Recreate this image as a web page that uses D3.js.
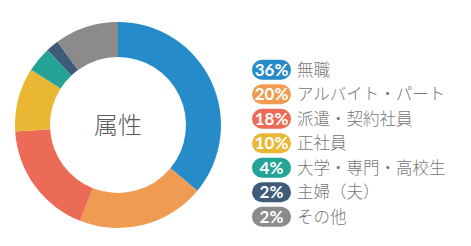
<!DOCTYPE html>
<html>
<head>
<meta charset="utf-8">
<script src="https://cdn.jsdelivr.net/npm/d3@7"></script>
<style>
  html, body { margin: 0; padding: 0; background: #fff; }
  svg { display: block; }
</style>
</head>
<body>
<svg id="chart" width="471" height="246"></svg>
<script>
// categories, slice sizes (as drawn) and badge labels (as printed)
const categories = ["無職", "アルバイト・パート", "派遣・契約社員", "正社員", "大学・専門・高校生", "主婦（夫）", "その他"];
const values = [36, 20, 18, 10, 4, 2, 10];
const badgeLabels = ["36%", "20%", "18%", "10%", "4%", "2%", "2%"];
const colors = ["#268bc9", "#ef9b52", "#ec6b56", "#e9b733", "#24a497", "#3e5b79", "#8b8b8b"];
const centerTitle = "属性";

const svg = d3.select("#chart");
const cx = 118, cy = 125;
const outerR = 103, innerR = 68;

const pie = d3.pie().sort(null).value(d => d)(values);
const arc = d3.arc().innerRadius(innerR).outerRadius(outerR);

const g = svg.append("g").attr("transform", `translate(${cx},${cy})`);
g.selectAll("path")
  .data(pie)
  .enter().append("path")
  .attr("d", arc)
  .attr("fill", (d, i) => colors[i]);

g.append("text")
  .attr("text-anchor", "middle")
  .attr("dy", "0.36em")
  .style("font-family", "'Noto Sans CJK JP', sans-serif")
  .style("font-weight", 300)
  .style("font-size", "24px")
  .style("fill", "#5a5a5a")
  .text(centerTitle);

// legend
const rowY = d3.scaleLinear().domain([0, categories.length - 1]).range([69.7, 216.7]);
const legend = svg.selectAll(".row")
  .data(categories)
  .enter().append("g")
  .attr("class", "row")
  .attr("transform", (d, i) => `translate(252,${rowY(i)})`);

legend.append("rect")
  .attr("x", 0)
  .attr("y", -10)
  .attr("width", 39)
  .attr("height", 20)
  .attr("rx", 10)
  .attr("fill", (d, i) => colors[i]);

legend.append("text")
  .attr("x", 19.5)
  .attr("dy", "0.36em")
  .attr("text-anchor", "middle")
  .style("font-family", "Lato, sans-serif")
  .style("font-weight", 700)
  .style("font-size", "17px")
  .style("fill", "#fff")
  .text((d, i) => badgeLabels[i]);

legend.append("text")
  .attr("x", 45)
  .attr("dy", "0.38em")
  .style("font-family", "'Noto Sans CJK JP', sans-serif")
  .style("font-weight", 300)
  .style("font-size", "16.5px")
  .style("fill", "#777")
  .text(d => d);
</script>
</body>
</html>
